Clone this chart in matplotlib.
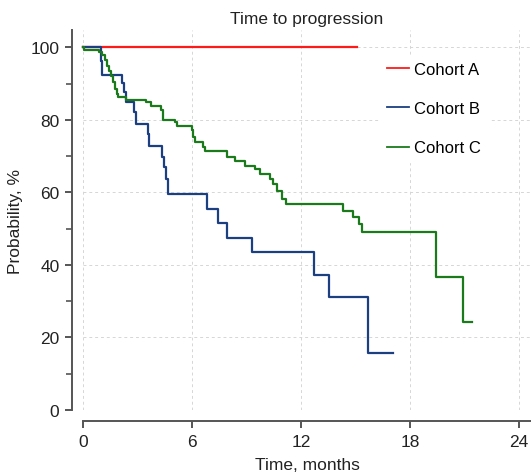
import matplotlib
matplotlib.use('Agg')
import matplotlib.pyplot as plt
from matplotlib.ticker import MultipleLocator

plt.rcParams['font.family'] = ['Liberation Sans', 'DejaVu Sans']

# Kaplan-Meier steps
time_a = [0, 15.05]
surv_a = [100, 100]

time_b = [0, 0.99, 1.02, 2.13, 2.27, 2.37, 2.83, 2.92, 3.60, 3.63,
          4.33, 4.48, 4.57, 4.70, 6.80, 7.45, 7.90, 9.32, 12.72, 13.56,
          15.70, 17.04]
surv_b = [100, 96.2, 92.5, 90.2, 87.6, 84.9, 82.1, 78.9, 76.1, 72.9,
          69.7, 67.0, 63.7, 59.6, 55.4, 51.6, 47.4, 43.6, 37.2, 31.1,
          15.6, 15.6]

time_c = [0, 0.05, 0.90, 1.03, 1.21, 1.34, 1.45, 1.54, 1.63, 1.74,
          1.85, 1.94, 2.35, 3.47, 3.72, 4.29, 4.40, 5.06, 5.17, 5.98,
          6.07, 6.17, 6.62, 6.71, 7.90, 8.37, 8.92, 9.47, 9.74, 10.29,
          10.47, 10.66, 10.94, 11.17, 14.29, 14.84, 15.19, 15.37, 19.41, 20.93,
          21.39]
surv_c = [100, 99.3, 98.7, 97.9, 96.4, 95.0, 93.6, 92.2, 90.4, 88.6,
          87.2, 86.3, 85.6, 84.9, 83.8, 82.6, 80.1, 79.4, 78.2, 77.1,
          75.2, 73.8, 72.5, 71.5, 69.7, 68.6, 67.4, 66.5, 65.1, 63.7,
          62.3, 60.5, 58.2, 56.8, 55.0, 53.2, 51.3, 49.2, 36.8, 24.4,
          24.4]

labels = ['Cohort A', 'Cohort B', 'Cohort C']
colors = ['#ff1a1a', '#1b3f80', '#1b7a1b']
x_ticks = [0, 6, 12, 18, 24]
y_ticks = [0, 20, 40, 60, 80, 100]

fig = plt.figure(figsize=(5.31, 4.77), dpi=100)
ax = fig.add_axes([83 / 531, 1 - 411 / 477, 448 / 531, 380 / 477])

ax.step(time_a, surv_a, where='post', color=colors[0], lw=1.6, label=labels[0], clip_on=False, zorder=3)
ax.step(time_b, surv_b, where='post', color=colors[1], lw=1.6, label=labels[1], clip_on=False, zorder=3)
ax.step(time_c, surv_c, where='post', color=colors[2], lw=1.6, label=labels[2], clip_on=False, zorder=3)

ax.set_xlim(0, 24.65)
ax.set_ylim(0, 104.8)
ax.set_xticks(x_ticks)
ax.set_yticks(y_ticks)
ax.yaxis.set_minor_locator(MultipleLocator(10))

ax.grid(True, which='major', ls=(0, (3, 3)), color='#d6d6d6', lw=0.7)
ax.set_axisbelow(True)

for s in ['top', 'right']:
    ax.spines[s].set_visible(False)
for s in ['left', 'bottom']:
    ax.spines[s].set_position(('outward', 8))
    ax.spines[s].set_color('#555555')
    ax.spines[s].set_linewidth(1.4)

ax.tick_params(which='major', length=5, width=1.4, color='#555555', labelsize=12.5, labelcolor='#222222', pad=4)
ax.tick_params(which='minor', axis='y', length=4, width=1.2, color='#555555')

ax.set_xlabel('Time, months', fontsize=12.5, color='#222222', labelpad=6)
ax.set_ylabel('Probability, %', fontsize=12.5, color='#222222', labelpad=5)
ax.set_title('Time to progression', fontsize=12.5, color='#222222', pad=5)

leg = ax.legend(loc='upper left', bbox_to_anchor=(0.645, 0.955), frameon=True, fontsize=12,
                labelspacing=1.45, handlelength=1.3, handletextpad=0.35, borderpad=0.4,
                fancybox=False, framealpha=1)
leg.get_frame().set_edgecolor('white')
leg.get_frame().set_facecolor('white')
for line in leg.get_lines():
    line.set_linewidth(1.3)

fig.savefig('out.png', dpi=100)
